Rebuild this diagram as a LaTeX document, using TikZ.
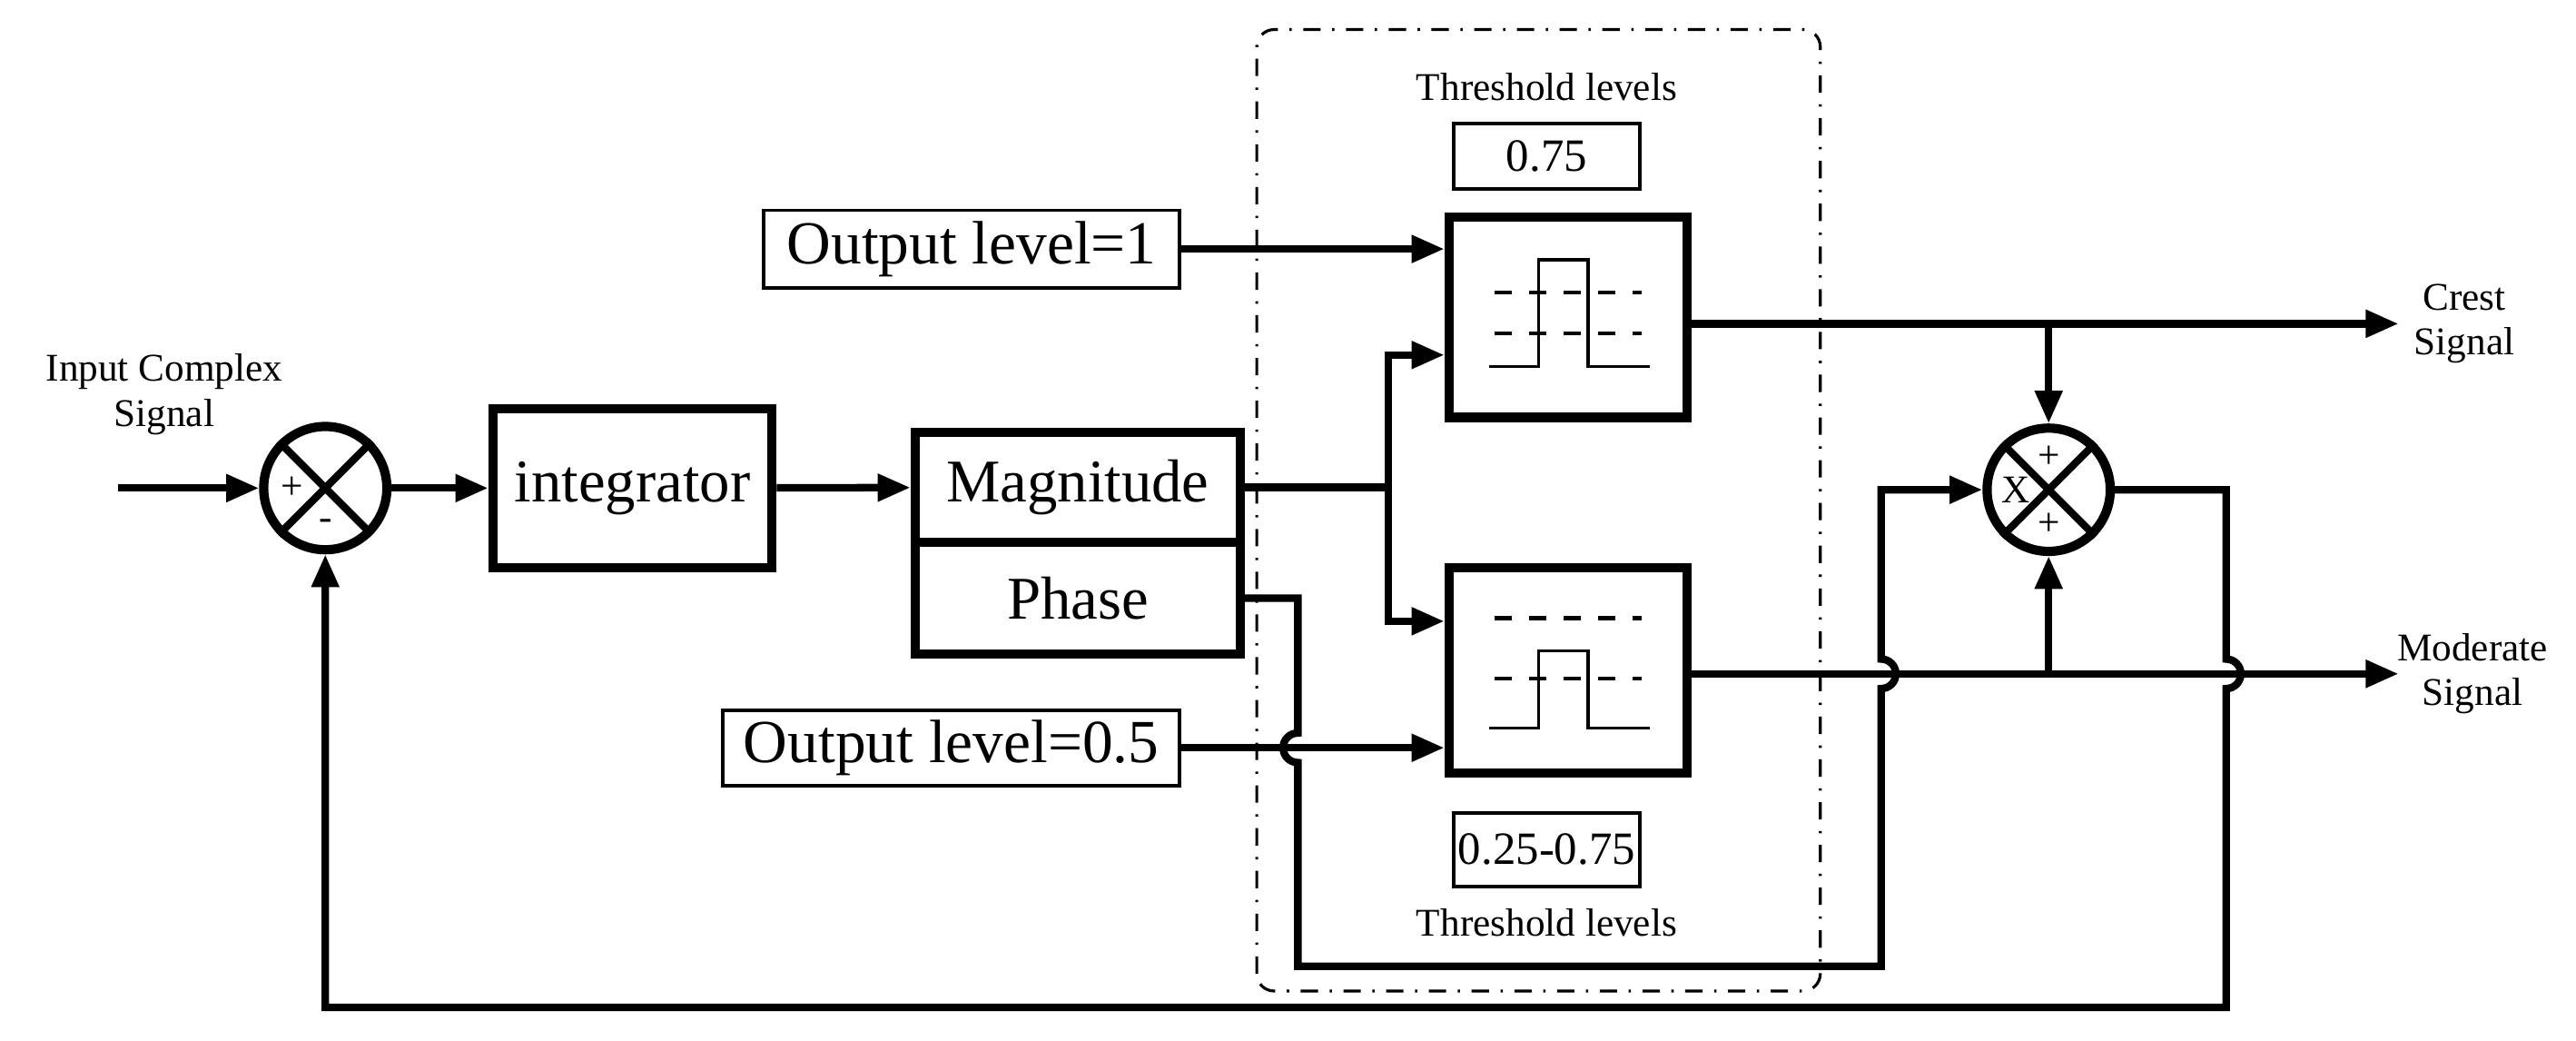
\documentclass[tikz,border=0pt]{standalone}
\usepackage{fontspec}
\setmainfont{Liberation Serif}
\usetikzlibrary{arrows.meta}
\tikzset{
    blk/.style={draw,line width=1.6pt,inner sep=0pt,font=\fontsize{10.5}{12}\selectfont},
    lvl/.style={draw,line width=0.6pt,inner sep=0pt,font=\fontsize{8}{9}\selectfont},
    sumc/.style={draw,circle,line width=1.6pt,minimum size=0.75cm,inner sep=0pt},
    wire/.style={line width=1.3pt},
    arr/.style={wire,-{Triangle[length=0.2cm,width=0.16cm]}},
    small/.style={font=\fontsize{6.8}{7.8}\selectfont,align=center},
}
\begin{document}
\begin{tikzpicture}
    \useasboundingbox (0,0) rectangle (15.68,6.33);
    \pgfmathsetmacro{\hop}{0.09}   % rayon des sauts

    % cadre du seuillage
    \draw[dash dot,line width=0.5pt,rounded corners=3pt] (7.65,0.3) rectangle (11.08,6.15);

    % blocs
    \node[sumc] (sum) at (1.98,3.36) {};
    \draw[line width=1.3pt] (sum.north west) -- (sum.south east) (sum.north east) -- (sum.south west);
    \node[small] at ([xshift=-0.2cm]sum.center) {+};
    \node[small] at ([yshift=-0.22cm]sum.center) {-};
    \node[blk,minimum width=1.7cm,minimum height=0.97cm] (integ) at (3.85,3.36) {integrator};
    \node[blk,minimum width=1.98cm,minimum height=0.67cm] (mag) at (6.56,3.365) {Magnitude};
    \node[blk,minimum width=1.98cm,minimum height=0.68cm,anchor=north] (phase) at ([yshift=1.6pt]mag.south) {Phase};
    \node[lvl,minimum width=2.53cm,minimum height=0.47cm,font=\fontsize{10.6}{12}\selectfont] (out1) at (5.915,4.815) {Output level=1};
    \node[lvl,minimum width=2.78cm,minimum height=0.46cm,font=\fontsize{10.6}{12}\selectfont] (out05) at (5.79,1.78) {Output level=0.5};
    \node[blk,minimum width=1.45cm,minimum height=1.22cm] (thr1) at (9.545,4.4) {};
    \node[blk,minimum width=1.45cm,minimum height=1.25cm] (thr2) at (9.545,2.25) {};
    \node[lvl,minimum width=1.13cm,minimum height=0.4cm] (lev1) at (9.415,5.38) {0.75};
    \node[small,above=0pt] at (lev1.north) {Threshold levels};
    \node[lvl,minimum width=1.13cm,minimum height=0.45cm] (lev2) at (9.415,1.16) {0.25-0.75};
    \node[small,below=0pt] at (lev2.south) {Threshold levels};
    \node[sumc] (mult) at (12.47,3.35) {};
    \draw[line width=1.3pt] (mult.north west) -- (mult.south east) (mult.north east) -- (mult.south west);
    \node[small] at ([yshift=0.2cm]mult.center) {+};
    \node[small] at ([yshift=-0.21cm]mult.center) {+};
    \node[small] at ([xshift=-0.2cm]mult.center) {X};

    % impulsions
    \foreach \b/\da/\db/\lo/\hi in {thr1/0.15/-0.1/-0.3/0.35, thr2/0.32/-0.05/-0.35/0.12}{
        \draw[dashed,line width=0.7pt] ([xshift=-0.45cm,yshift=\da cm]\b.center) -- ++(0.9,0);
        \draw[dashed,line width=0.7pt] ([xshift=-0.45cm,yshift=\db cm]\b.center) -- ++(0.9,0);
        \draw[line width=0.6pt] ([xshift=-0.48cm,yshift=\lo cm]\b.center) -- ++(0.3,0) |- ([xshift=0.12cm,yshift=\hi cm]\b.center) |- ([xshift=0.5cm,yshift=\lo cm]\b.center);
    }

    % textes
    \coordinate (inp) at (0.72,3.36);
    \node[small] at (1.0,3.93) {Input Complex\\Signal};
    \coordinate (crest) at (14.6,4.36);
    \node[small] at (15.0,4.36) {Crest\\Signal};
    \coordinate (moder) at (14.6,2.23);
    \node[small] at (15.05,2.23) {Moderate\\Signal};

    % liaisons
    \draw[arr] (inp) -- (sum);
    \draw[arr] (sum) -- (integ);
    \draw[arr] (integ) -- (mag);
    \draw[arr] (out1.east) -- (out1.east -| thr1.west);
    \draw[arr] (mag.east) -- (8.45,3.365) |- ([yshift=-0.23cm]thr1.west);
    \draw[arr] (8.45,3.365) |- ([yshift=0.3cm]thr2.west);
    \draw[arr] (out05.east) -- (out05.east -| thr2.west);
    \draw[arr] (thr1.east |- crest) -- (crest);
    \draw[arr] (thr2.east |- moder) -- (moder);
    \draw[arr] (12.47,4.36) -- (mult.north);
    \draw[arr] (12.47,2.23) -- (mult.south);
    % phase vers multiplicateur
    \draw[arr] (phase.east |- 0,2.69) -- (7.9,2.69) -- (7.9,1.78+\hop)
        arc[start angle=90,end angle=270,radius=\hop] -- (7.9,0.45) -- (11.45,0.45)
        -- (11.45,2.23-\hop) arc[start angle=-90,end angle=90,radius=\hop] |- (mult.west);
    % retour
    \draw[arr] (mult.east) -- (13.55,3.35) -- (13.55,2.23+\hop)
        arc[start angle=90,end angle=-90,radius=\hop] -- (13.55,0.2) -| (sum.south);
\end{tikzpicture}
\end{document}
